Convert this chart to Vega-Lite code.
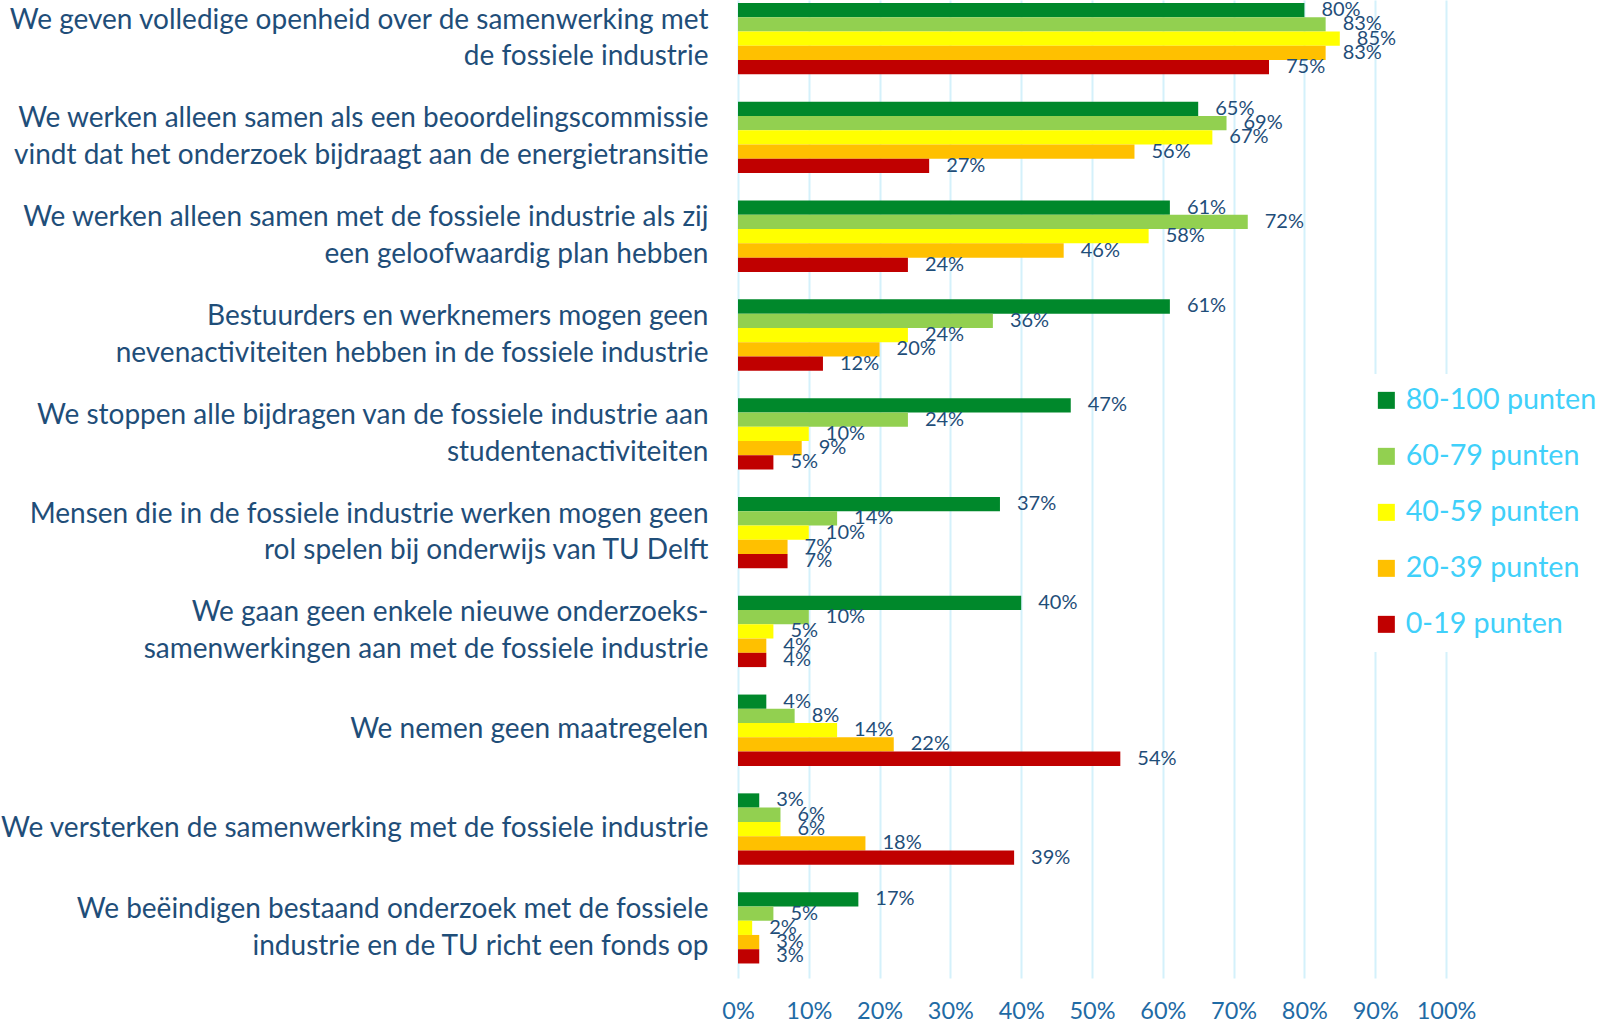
{
  "$schema": "https://vega.github.io/schema/vega-lite/v6.json",
  "autosize": {"type": "none"},
  "padding": {"left": 738, "top": 0, "right": 152, "bottom": 45},
  "width": 708,
  "height": 978,
  "background": "white",
  "config": {"view": {"stroke": null}, "font": "Lato"},
  "data": {
    "values": [
      {"q": "We geven volledige openheid over de samenwerking met|de fossiele industrie", "g": "80-100 punten", "v": 0.80},
      {"q": "We geven volledige openheid over de samenwerking met|de fossiele industrie", "g": "60-79 punten", "v": 0.83},
      {"q": "We geven volledige openheid over de samenwerking met|de fossiele industrie", "g": "40-59 punten", "v": 0.85},
      {"q": "We geven volledige openheid over de samenwerking met|de fossiele industrie", "g": "20-39 punten", "v": 0.83},
      {"q": "We geven volledige openheid over de samenwerking met|de fossiele industrie", "g": "0-19 punten", "v": 0.75},
      {"q": "We werken alleen samen als een beoordelingscommissie|vindt dat het onderzoek bijdraagt aan de energietransitie", "g": "80-100 punten", "v": 0.65},
      {"q": "We werken alleen samen als een beoordelingscommissie|vindt dat het onderzoek bijdraagt aan de energietransitie", "g": "60-79 punten", "v": 0.69},
      {"q": "We werken alleen samen als een beoordelingscommissie|vindt dat het onderzoek bijdraagt aan de energietransitie", "g": "40-59 punten", "v": 0.67},
      {"q": "We werken alleen samen als een beoordelingscommissie|vindt dat het onderzoek bijdraagt aan de energietransitie", "g": "20-39 punten", "v": 0.56},
      {"q": "We werken alleen samen als een beoordelingscommissie|vindt dat het onderzoek bijdraagt aan de energietransitie", "g": "0-19 punten", "v": 0.27},
      {"q": "We werken alleen samen met de fossiele industrie als zij|een geloofwaardig plan hebben", "g": "80-100 punten", "v": 0.61},
      {"q": "We werken alleen samen met de fossiele industrie als zij|een geloofwaardig plan hebben", "g": "60-79 punten", "v": 0.72},
      {"q": "We werken alleen samen met de fossiele industrie als zij|een geloofwaardig plan hebben", "g": "40-59 punten", "v": 0.58},
      {"q": "We werken alleen samen met de fossiele industrie als zij|een geloofwaardig plan hebben", "g": "20-39 punten", "v": 0.46},
      {"q": "We werken alleen samen met de fossiele industrie als zij|een geloofwaardig plan hebben", "g": "0-19 punten", "v": 0.24},
      {"q": "Bestuurders en werknemers mogen geen|nevenactiviteiten hebben in de fossiele industrie", "g": "80-100 punten", "v": 0.61},
      {"q": "Bestuurders en werknemers mogen geen|nevenactiviteiten hebben in de fossiele industrie", "g": "60-79 punten", "v": 0.36},
      {"q": "Bestuurders en werknemers mogen geen|nevenactiviteiten hebben in de fossiele industrie", "g": "40-59 punten", "v": 0.24},
      {"q": "Bestuurders en werknemers mogen geen|nevenactiviteiten hebben in de fossiele industrie", "g": "20-39 punten", "v": 0.20},
      {"q": "Bestuurders en werknemers mogen geen|nevenactiviteiten hebben in de fossiele industrie", "g": "0-19 punten", "v": 0.12},
      {"q": "We stoppen alle bijdragen van de fossiele industrie aan|studentenactiviteiten", "g": "80-100 punten", "v": 0.47},
      {"q": "We stoppen alle bijdragen van de fossiele industrie aan|studentenactiviteiten", "g": "60-79 punten", "v": 0.24},
      {"q": "We stoppen alle bijdragen van de fossiele industrie aan|studentenactiviteiten", "g": "40-59 punten", "v": 0.10},
      {"q": "We stoppen alle bijdragen van de fossiele industrie aan|studentenactiviteiten", "g": "20-39 punten", "v": 0.09},
      {"q": "We stoppen alle bijdragen van de fossiele industrie aan|studentenactiviteiten", "g": "0-19 punten", "v": 0.05},
      {"q": "Mensen die in de fossiele industrie werken mogen geen|rol spelen bij onderwijs van TU Delft", "g": "80-100 punten", "v": 0.37},
      {"q": "Mensen die in de fossiele industrie werken mogen geen|rol spelen bij onderwijs van TU Delft", "g": "60-79 punten", "v": 0.14},
      {"q": "Mensen die in de fossiele industrie werken mogen geen|rol spelen bij onderwijs van TU Delft", "g": "40-59 punten", "v": 0.10},
      {"q": "Mensen die in de fossiele industrie werken mogen geen|rol spelen bij onderwijs van TU Delft", "g": "20-39 punten", "v": 0.07},
      {"q": "Mensen die in de fossiele industrie werken mogen geen|rol spelen bij onderwijs van TU Delft", "g": "0-19 punten", "v": 0.07},
      {"q": "We gaan geen enkele nieuwe onderzoeks-|samenwerkingen aan met de fossiele industrie", "g": "80-100 punten", "v": 0.40},
      {"q": "We gaan geen enkele nieuwe onderzoeks-|samenwerkingen aan met de fossiele industrie", "g": "60-79 punten", "v": 0.10},
      {"q": "We gaan geen enkele nieuwe onderzoeks-|samenwerkingen aan met de fossiele industrie", "g": "40-59 punten", "v": 0.05},
      {"q": "We gaan geen enkele nieuwe onderzoeks-|samenwerkingen aan met de fossiele industrie", "g": "20-39 punten", "v": 0.04},
      {"q": "We gaan geen enkele nieuwe onderzoeks-|samenwerkingen aan met de fossiele industrie", "g": "0-19 punten", "v": 0.04},
      {"q": "We nemen geen maatregelen", "g": "80-100 punten", "v": 0.04},
      {"q": "We nemen geen maatregelen", "g": "60-79 punten", "v": 0.08},
      {"q": "We nemen geen maatregelen", "g": "40-59 punten", "v": 0.14},
      {"q": "We nemen geen maatregelen", "g": "20-39 punten", "v": 0.22},
      {"q": "We nemen geen maatregelen", "g": "0-19 punten", "v": 0.54},
      {"q": "We versterken de samenwerking met de fossiele industrie", "g": "80-100 punten", "v": 0.03},
      {"q": "We versterken de samenwerking met de fossiele industrie", "g": "60-79 punten", "v": 0.06},
      {"q": "We versterken de samenwerking met de fossiele industrie", "g": "40-59 punten", "v": 0.06},
      {"q": "We versterken de samenwerking met de fossiele industrie", "g": "20-39 punten", "v": 0.18},
      {"q": "We versterken de samenwerking met de fossiele industrie", "g": "0-19 punten", "v": 0.39},
      {"q": "We beëindigen bestaand onderzoek met de fossiele|industrie en de TU richt een fonds op", "g": "80-100 punten", "v": 0.17},
      {"q": "We beëindigen bestaand onderzoek met de fossiele|industrie en de TU richt een fonds op", "g": "60-79 punten", "v": 0.05},
      {"q": "We beëindigen bestaand onderzoek met de fossiele|industrie en de TU richt een fonds op", "g": "40-59 punten", "v": 0.02},
      {"q": "We beëindigen bestaand onderzoek met de fossiele|industrie en de TU richt een fonds op", "g": "20-39 punten", "v": 0.03},
      {"q": "We beëindigen bestaand onderzoek met de fossiele|industrie en de TU richt een fonds op", "g": "0-19 punten", "v": 0.03}
    ]
  },
  "encoding": {
    "y": {
      "field": "q", "type": "nominal", "sort": null, "title": null,
      "scale": {"paddingInner": 0.278, "paddingOuter": 0.0885, "align": 0.17},
      "axis": {
        "domain": false, "ticks": false, "grid": false,
        "labelExpr": "split(datum.label, '|')",
        "labelFontSize": 28, "labelColor": "#1F4E79", "labelPadding": 30,
        "labelLineHeight": 36.7, "labelLimit": 0, "labelAlign": "right", "labelBaseline": "middle",
        "labelOffset": {"condition": {"test": "indexof(datum.value, '|') >= 0", "value": -18}, "value": 0}
      }
    },
    "yOffset": {
      "field": "g", "type": "nominal",
      "sort": ["80-100 punten", "60-79 punten", "40-59 punten", "20-39 punten", "0-19 punten"],
      "scale": {"paddingInner": 0, "paddingOuter": 0}
    },
    "x": {
      "field": "v", "type": "quantitative", "title": null,
      "scale": {"domain": [0, 1], "nice": false},
      "axis": {
        "values": [0, 0.1, 0.2, 0.3, 0.4, 0.5, 0.6, 0.7, 0.8, 0.9, 1.0],
        "format": ".0%", "domain": false, "ticks": false,
        "grid": true, "gridColor": "#D4F1FB", "gridWidth": 2,
        "labelFontSize": 23.5, "labelColor": "#1F6BA5", "labelPadding": 21,
        "labelFlush": false
      }
    }
  },
  "layer": [
    {
      "mark": {"type": "bar"},
      "encoding": {
        "color": {
          "field": "g", "type": "nominal", "title": null,
          "sort": ["80-100 punten", "60-79 punten", "40-59 punten", "20-39 punten", "0-19 punten"],
          "scale": {
            "domain": ["80-100 punten", "60-79 punten", "40-59 punten", "20-39 punten", "0-19 punten"],
            "range": ["#00882B", "#92D050", "#FFFF00", "#FFC000", "#C00000"]
          },
          "legend": {
            "orient": "none", "legendX": 622, "legendY": 374,
            "fillColor": "white", "padding": 12,
            "symbolType": "square", "symbolSize": 289, "symbolStrokeWidth": 0,
            "labelFontSize": 28.7, "labelColor": "#40D0FA", "labelOffset": 5,
            "rowPadding": 26, "labelLimit": 300
          }
        }
      }
    },
    {
      "mark": {"type": "text", "align": "left", "baseline": "middle", "dx": 17, "fontSize": 20, "color": "#1F4E79"},
      "encoding": {
        "text": {"field": "v", "type": "quantitative", "format": ".0%"}
      }
    }
  ]
}
